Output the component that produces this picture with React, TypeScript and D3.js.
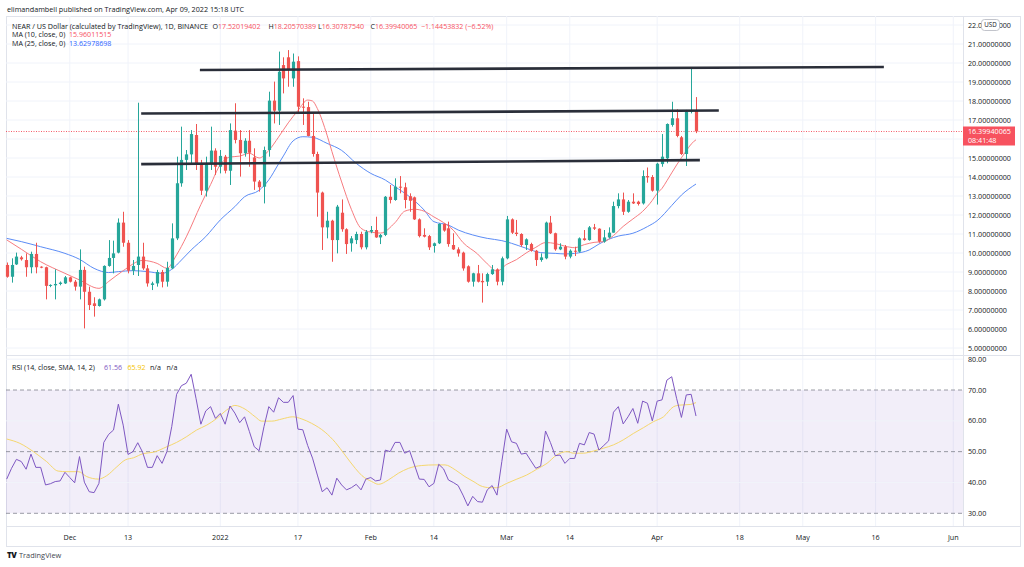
import React from 'react';
import * as d3 from 'd3';

// ---------- DATA ----------
// Daily candles NEAR/USD (Binance), first candle = 2021-11-18, last = 2022-04-09
const firstDay = Date.UTC(2021, 10, 18);

const opens = [
  9.37, 8.75, 9.40, 9.77, 9.63, 9.25, 9.95, 9.28, 9.25, 8.27,
  8.30, 8.37, 8.40, 8.72, 8.49, 8.23, 9.11, 7.96, 7.35, 7.21,
  7.56, 9.32, 9.74, 10.02, 11.60, 10.54, 9.07, 9.37, 9.81, 9.19,
  8.32, 8.40, 9.00, 8.49, 9.19, 10.77, 13.67, 14.90, 15.19, 16.21,
  14.72, 13.28, 14.72, 15.39, 14.54, 15.07, 14.33, 16.44, 15.95, 15.25,
  15.91, 15.03, 13.76, 13.49, 15.42, 18.02, 17.49, 19.89, 20.30, 19.19,
  20.10, 17.70, 17.68, 16.16, 15.21, 13.18, 11.35, 11.70, 10.68, 12.12,
  11.25, 10.51, 10.68, 11.00, 10.30, 11.12, 11.21, 10.82, 10.95, 12.96,
  12.79, 13.49, 13.46, 12.99, 12.93, 11.77, 10.95, 10.89, 10.37, 10.51,
  11.53, 11.30, 10.42, 10.19, 10.02, 9.30, 8.49, 8.93, 8.53, 8.49,
  8.89, 9.14, 8.49, 9.72, 11.77, 11.07, 11.00, 10.42, 10.47, 10.12,
  9.63, 9.72, 11.60, 11.04, 10.19, 10.33, 9.81, 10.12, 10.07, 10.77,
  10.68, 11.35, 11.28, 10.60, 10.82, 11.07, 12.47, 12.82, 12.17, 12.70,
  12.70, 12.61, 14.05, 14.00, 13.28, 14.68, 14.98, 16.74, 17.09, 16.09,
  15.21, 17.44, 17.52019402,
];
const highs = [
  9.50, 9.72, 10.02, 9.85, 9.98, 10.07, 10.54, 9.30, 9.28, 8.35,
  9.14, 8.50, 8.79, 8.75, 8.58, 10.19, 9.28, 8.23, 7.67, 7.60,
  9.35, 10.68, 10.65, 11.82, 12.17, 10.68, 9.63, 17.91, 10.54, 9.37,
  8.49, 9.11, 9.11, 9.54, 11.56, 15.07, 16.65, 15.42, 16.47, 16.79,
  14.90, 15.07, 16.65, 15.51, 15.42, 15.16, 16.82, 17.88, 16.47, 16.04,
  16.47, 15.51, 13.84, 15.60, 18.49, 19.02, 20.60, 20.30, 20.68, 20.50,
  20.35, 18.14, 17.96, 17.35, 15.33, 13.23, 12.17, 11.75, 12.53, 12.82,
  11.30, 10.89, 11.12, 11.12, 11.21, 11.42, 11.91, 11.00, 13.00, 13.58,
  13.93, 14.05, 13.70, 13.14, 12.97, 11.82, 11.30, 10.95, 10.55, 11.56,
  11.56, 11.65, 11.04, 10.30, 10.07, 9.35, 8.96, 9.37, 8.93, 8.96,
  9.37, 9.19, 9.81, 11.95, 11.82, 11.74, 11.04, 10.77, 10.54, 10.16,
  9.98, 11.65, 11.95, 11.07, 10.51, 10.42, 10.19, 10.33, 10.82, 11.21,
  11.42, 11.53, 11.30, 11.21, 11.35, 12.70, 13.14, 13.18, 12.79, 13.14,
  12.75, 14.35, 14.50, 14.10, 14.75, 16.26, 16.82, 17.96, 17.56, 16.16,
  17.53, 19.77, 18.20570389,
];
const lows = [
  8.70, 8.44, 9.37, 9.60, 8.75, 8.93, 8.93, 9.20, 7.56, 8.20,
  7.56, 8.30, 8.37, 8.45, 8.02, 7.56, 6.03, 7.00, 6.65, 7.18,
  7.50, 9.28, 8.93, 9.98, 10.33, 8.93, 8.84, 8.79, 9.11, 8.23,
  8.05, 8.23, 8.19, 8.23, 9.15, 10.68, 13.49, 14.37, 14.72, 14.37,
  13.05, 12.97, 14.37, 14.11, 14.19, 14.19, 13.58, 15.77, 14.02, 15.07,
  14.54, 13.32, 13.23, 12.61, 15.07, 16.82, 16.74, 18.40, 18.75, 18.75,
  17.35, 16.74, 16.14, 15.07, 11.91, 10.16, 10.77, 9.54, 9.98, 11.12,
  9.95, 10.07, 10.47, 10.19, 10.19, 11.04, 10.80, 10.47, 10.89, 12.61,
  12.75, 13.14, 12.35, 12.17, 11.74, 10.82, 10.82, 10.16, 10.02, 10.47,
  11.12, 10.33, 10.16, 9.81, 9.07, 8.44, 8.23, 8.45, 7.39, 8.26,
  8.85, 8.30, 8.30, 9.67, 11.00, 10.89, 10.33, 10.16, 10.07, 9.32,
  9.54, 9.67, 11.00, 10.12, 10.15, 9.67, 9.72, 9.84, 10.02, 10.65,
  10.65, 11.21, 10.54, 10.54, 10.77, 11.07, 12.35, 12.00, 12.12, 12.58,
  12.50, 12.55, 13.70, 13.23, 12.55, 14.54, 14.72, 16.65, 16.09, 15.16,
  14.58, 17.35, 16.3078754,
];
const closes = [
  8.75, 9.37, 9.81, 9.67, 9.25, 9.95, 9.25, 9.25, 8.27, 8.32,
  8.37, 8.44, 8.72, 8.49, 8.23, 9.11, 7.96, 7.26, 7.21, 7.56,
  9.32, 9.74, 9.98, 11.60, 10.54, 9.07, 9.32, 9.81, 9.19, 8.40,
  8.40, 9.00, 8.49, 9.21, 10.77, 13.67, 14.90, 15.19, 16.26, 14.72,
  13.28, 14.72, 15.39, 14.54, 15.11, 14.33, 16.47, 15.95, 15.25, 15.91,
  15.28, 13.76, 13.46, 15.42, 18.02, 17.49, 19.54, 19.19, 19.63, 20.07,
  17.70, 17.68, 16.16, 15.21, 13.18, 11.35, 11.70, 10.68, 12.44, 11.25,
  10.47, 10.77, 11.00, 10.30, 11.12, 11.21, 10.82, 10.95, 12.96, 12.79,
  13.49, 13.46, 12.79, 12.75, 11.77, 10.89, 10.86, 10.30, 10.51, 11.53,
  11.18, 10.47, 10.19, 9.98, 9.19, 8.49, 8.93, 8.49, 8.46, 8.89,
  9.14, 8.49, 9.72, 11.77, 11.07, 11.00, 10.42, 10.72, 10.12, 9.63,
  9.77, 11.60, 11.04, 10.19, 10.33, 9.81, 10.12, 10.07, 10.77, 10.68,
  11.35, 11.28, 10.60, 10.82, 11.07, 12.47, 12.82, 12.17, 12.70, 12.61,
  12.58, 14.05, 13.98, 13.28, 14.70, 15.07, 16.79, 17.09, 16.16, 15.21,
  17.44, 17.52, 16.39940065,
];

// MA (10) line, sampled [day index, value]
const ma10Points: [number, number][] = [
  [0, 10.69], [3, 10.2], [7, 9.54], [12, 8.93], [15, 8.58], [19, 8.14], [21, 8.5], [24, 9.07],
  [28, 9.61], [31, 9.45], [33, 9.2], [35, 9.9], [37, 10.85], [40, 12.55], [42, 13.6], [44, 14.65],
  [46, 15.05], [48, 15.1], [50, 15.25], [52, 15.0], [54, 15.4], [56, 16.1], [58, 16.85], [60, 17.5],
  [62, 18.05], [63, 18.0], [64, 17.6], [66, 16.2], [67, 15.34], [69, 13.74], [71, 12.3], [73, 11.3],
  [75, 11.1], [77, 11.05], [80, 11.6], [82, 12.2], [84, 12.3], [86, 12.2], [88, 11.9], [90, 11.6],
  [92, 11.2], [94, 10.55], [97, 9.95], [99, 9.43], [101, 9.05], [103, 9.4], [105, 9.65], [107, 10.0],
  [109, 10.3], [111, 10.55], [113, 10.5], [115, 10.36], [117, 10.28], [119, 10.44], [121, 10.56],
  [123, 10.6], [125, 10.92], [127, 11.4], [129, 11.79], [131, 12.19], [133, 12.77], [134, 13.14],
  [135, 13.4], [136, 13.8], [138, 14.63], [140, 15.38], [141, 15.73], [142, 15.96],
];

// MA (25) line, sampled [day index, value]
const ma25Points: [number, number][] = [
  [0, 10.77], [3, 10.6], [7, 10.33], [12, 9.98], [15, 9.67], [18, 9.19], [21, 8.97], [23, 9.02],
  [26, 9.07], [29, 9.02], [32, 8.93], [34, 9.14], [36, 9.63], [38, 10.16], [41, 10.86], [44, 11.74],
  [47, 12.44], [49, 12.96], [52, 13.3], [54, 13.85], [56, 14.69], [57, 15.11], [59, 15.9], [61, 16.12],
  [63, 16.09], [66, 15.77], [69, 15.4], [72, 14.72], [75, 14.19], [78, 13.84], [80, 13.49], [83, 12.96],
  [86, 12.26], [88, 11.65], [91, 11.47], [93, 11.21], [96, 10.95], [99, 10.77], [102, 10.65],
  [104, 10.51], [107, 10.25], [110, 10.02], [113, 9.98], [115, 9.95], [117, 9.98], [120, 10.16],
  [122, 10.47], [124, 10.72], [126, 10.89], [129, 11.04], [132, 11.39], [134, 11.7], [137, 12.5],
  [139, 13.05], [142, 13.63],
];

// RSI (14) per candle
const rsiValues = [
  41.1, 44.6, 47.5, 46.8, 44.3, 49.2, 44.9, 44.9, 39.2, 39.6,
  40.3, 40.5, 43.3, 41.6, 39.9, 48.4, 40.1, 37.0, 36.7, 39.7,
  53.0, 55.6, 57.0, 65.4, 58.6, 49.1, 50.0, 52.9, 49.8, 44.9,
  44.9, 48.7, 46.2, 50.0, 58.1, 68.6, 71.4, 72.2, 75.1, 67.3,
  58.9, 63.2, 64.6, 60.8, 62.4, 58.9, 64.8, 62.5, 59.4, 61.3,
  56.5, 51.6, 50.3, 58.1, 64.6, 62.8, 67.5, 66.0, 66.0, 68.2,
  57.3, 57.1, 52.0, 47.9, 42.4, 37.0, 38.3, 35.9, 41.4, 39.2,
  37.6, 38.3, 39.4, 37.6, 41.1, 41.6, 40.5, 40.8, 50.5, 50.0,
  53.0, 53.0, 49.5, 50.3, 45.7, 41.1, 41.0, 38.6, 39.7, 45.9,
  44.4, 40.8, 40.0, 39.0, 35.9, 32.4, 35.5, 33.8, 33.6, 37.6,
  39.0, 35.9, 46.8, 57.3, 53.2, 52.7, 49.2, 49.5, 47.0, 44.6,
  45.3, 56.7, 53.0, 48.7, 48.9, 46.2, 47.8, 47.8, 52.7, 52.2,
  56.2, 55.7, 50.5, 52.0, 53.5, 62.8, 64.6, 59.0, 61.3, 64.0,
  59.2, 66.4, 65.7, 60.0, 66.4, 66.8, 73.2, 74.3, 67.3, 61.1,
  68.4, 68.6, 61.56,
];

// RSI-based SMA (14), sampled [day index, value]
const rsiMaPoints: [number, number][] = [
  [0, 54.1], [2.7, 52.7], [5.5, 50.0], [8.2, 46.8], [10.6, 43.7], [12.4, 43.5], [14.8, 43.5],
  [16.5, 41.9], [18.9, 41.1], [20.6, 42.2], [22.7, 45.1], [24.4, 47.3], [26.1, 48.0], [28.2, 49.4],
  [30.2, 49.8], [33, 51.6], [35, 53.0], [37.1, 54.9], [39.1, 57.0], [41.2, 58.6], [43.3, 60.8],
  [45.3, 63.5], [47, 65.0], [49.1, 63.8], [51.2, 61.3], [52.5, 59.9], [54.6, 59.9], [56.7, 60.6],
  [58.9, 61.3], [60.8, 60.6], [62.8, 59.2], [65.6, 56.3], [67.7, 53.0], [69.7, 48.9], [71.8, 44.6],
  [73.2, 42.2], [75.2, 40.3], [76.6, 39.4], [78.6, 40.8], [80.7, 43.0], [82.8, 44.6], [85.5, 45.5],
  [88.2, 45.7], [90.3, 45.7], [92.4, 44.1], [94.4, 41.9], [96.5, 40.0], [97.5, 39.0], [99.6, 38.3],
  [100.9, 38.3], [103, 39.7], [105.1, 41.1], [107.1, 42.4], [109.2, 44.3], [111.3, 46.2],
  [113.3, 48.9], [115.4, 50.0], [116.8, 49.5], [118.8, 49.5], [120.9, 50.2], [122.9, 51.1],
  [125, 52.2], [127, 53.8], [129.1, 55.9], [131.2, 57.8], [133.2, 59.7], [135.3, 61.3],
  [137.4, 64.6], [138.7, 65.1], [140.8, 65.3], [142, 65.92],
];

// Drawn horizontal trend lines: [start day, start price, end day, end price]
const trendLines: [number, number, number, number][] = [
  [39.8, 19.63, 180.7, 19.79],
  [27.7, 17.34, 146.7, 17.5],
  [27.7, 14.68, 142.8, 14.89],
];

// price labels shown on the axis (16 is hidden under the last-price tag)
const priceTicks = [5, 6, 7, 8, 9, 10, 11, 12, 13, 14, 15, 16, 17, 18, 19, 20, 21, 22];
const priceLabelTicks = [5, 6, 7, 8, 9, 10, 11, 12, 13, 14, 15, 17, 18, 19, 20, 21, 22];
const rsiTicks = [30, 40, 50, 60, 70, 80];
const rsiDashed = [30, 50, 70];
const timeTickDates = [
  [2021, 11, 1], [2021, 11, 13], [2022, 0, 1], [2022, 0, 17], [2022, 1, 1], [2022, 1, 14],
  [2022, 2, 1], [2022, 2, 14], [2022, 3, 1], [2022, 3, 18], [2022, 4, 1], [2022, 4, 16], [2022, 5, 1],
];
const timeTickLabels = ['Dec', '13', '2022', '17', 'Feb', '14', 'Mar', '14', 'Apr', '18', 'May', '16', 'Jun'];

const lastPrice = 16.39940065;
const headerText = 'elimandambell published on TradingView.com, Apr 09, 2022 15:18 UTC';
const symbolTitle = 'NEAR / US Dollar (calculated by TradingView), 1D, BINANCE';
const ohlcLegend = [
  ['O', '17.52019402'], ['H', '18.20570389'], ['L', '16.30787540'], ['C', '16.39940065'],
];
const changeText = '\u22121.14453832 (\u22126.52%)';
const ma10Legend = ['MA (10, close, 0)', '15.96011515'];
const ma25Legend = ['MA (25, close, 0)', '13.62978698'];
const rsiLegend = ['RSI (14, close, SMA, 14, 2)', '61.56', '65.92', 'n/a', 'n/a'];
const countdown = '08:41:48';

// ---------- COMPONENT ----------
const DAY = 86400000;
const dayDate = (i: number) => new Date(firstDay + i * DAY);

const FONT = '"Open Sans", Roboto, "Liberation Sans", Arial, sans-serif';
const UP = '#26a69a';
const DOWN = '#ef5350';
const TEXT = '#131722';
const GRID = '#f0f3fa';
const RED_TXT = '#f7525f';

export default function App() {
  const W = 1024;
  const H = 567;
  const paneLeft = 6;
  const paneRight = 963;
  const mainTop = 16;
  const mainBottom = 355;
  const rsiBottom = 526;

  const x = d3.scaleUtc().domain([dayDate(0), dayDate(142)]).range([6.7, 696]);
  const xi = (i: number) => x(dayDate(i));
  const yP = d3.scaleLinear().domain([5, 22]).range([348, 25]);
  const yR = d3.scaleLinear().domain([30, 70]).range([513.3, 390]);

  const maLine = d3
    .line<[number, number]>()
    .x((d) => xi(d[0]))
    .y((d) => yP(d[1]))
    .curve(d3.curveMonotoneX);
  const rsiLine = d3
    .line<number>()
    .x((_, i) => xi(i))
    .y((d) => yR(d));
  const rsiMaLine = d3
    .line<[number, number]>()
    .x((d) => xi(d[0]))
    .y((d) => yR(d[1]))
    .curve(d3.curveMonotoneX);

  const fmt8 = d3.format('.8f');
  const fmt2 = d3.format('.2f');
  const bodyW = 3.2;
  const fs = 7.2;
  const lfs = 7.1;
  const lastY = Math.round(yP(lastPrice)) + 0.5;

  const tickXs = timeTickDates.map((d) => x(new Date(Date.UTC(d[0], d[1], d[2]))));
  const ohlcX = [212.5, 268.5, 318, 370.5];

  return (
    <svg
      width={W}
      height={H}
      viewBox={`0 0 ${W} ${H}`}
      style={{ position: 'absolute', left: 0, top: 0, background: '#fff' }}
      fontFamily={FONT}
    >
      <rect x={0} y={0} width={W} height={H} fill="#fff" />
      {/* header */}
      <text x={7} y={12} fontSize={7.6} fill={TEXT} textLength={237} lengthAdjust="spacingAndGlyphs">
        {headerText}
      </text>

      {/* frame */}
      <rect x={paneLeft + 0.5} y={mainTop + 0.5} width={1014} height={530} fill="none" stroke="#e0e3eb" />

      {/* vertical grid */}
      {tickXs.map((tx, i) => (
        <line key={'vg' + i} x1={tx} x2={tx} y1={mainTop} y2={rsiBottom} stroke={GRID} />
      ))}
      {/* main horizontal grid */}
      {priceTicks.map((v) => (
        <line key={'hg' + v} x1={paneLeft} x2={paneRight} y1={yP(v)} y2={yP(v)} stroke={GRID} />
      ))}

      {/* RSI band */}
      <rect
        x={paneLeft}
        y={yR(70)}
        width={paneRight - paneLeft}
        height={yR(30) - yR(70)}
        fill="#7e57c2"
        fillOpacity={0.1}
      />
      {rsiTicks
        .filter((v) => !rsiDashed.includes(v))
        .map((v) => (
          <line key={'rg' + v} x1={paneLeft} x2={paneRight} y1={yR(v)} y2={yR(v)} stroke={GRID} strokeOpacity={0.9} />
        ))}
      {rsiDashed.map((v) => (
        <line
          key={'rd' + v}
          x1={paneLeft}
          x2={paneRight}
          y1={yR(v)}
          y2={yR(v)}
          stroke="#787b86"
          strokeOpacity={0.75}
          strokeDasharray="4,3"
        />
      ))}

      {/* pane separators */}
      <line x1={paneLeft} x2={1020} y1={mainBottom + 0.5} y2={mainBottom + 0.5} stroke="#e0e3eb" />
      <line x1={paneLeft} x2={1020} y1={rsiBottom + 0.5} y2={rsiBottom + 0.5} stroke="#e0e3eb" />
      <line x1={paneRight + 0.5} x2={paneRight + 0.5} y1={mainTop} y2={rsiBottom} stroke="#e0e3eb" />

      {/* current price dotted line */}
      <line x1={paneLeft} x2={paneRight} y1={lastY} y2={lastY} stroke="#f23645" strokeOpacity={0.8} strokeDasharray="1,1.5" />

      {/* moving averages */}
      <path d={maLine(ma25Points) || ''} fill="none" stroke="#5b8cf6" strokeWidth={1} />
      <path d={maLine(ma10Points) || ''} fill="none" stroke="#f77c80" strokeWidth={1} />

      {/* candles */}
      {opens.map((o, i) => {
        const c = closes[i];
        const up = c >= o;
        const col = up ? UP : DOWN;
        const cx = Math.round(xi(i)) + 0.5;
        const top = yP(Math.max(o, c));
        const bot = yP(Math.min(o, c));
        return (
          <g key={'c' + i}>
            <line x1={cx} x2={cx} y1={yP(highs[i])} y2={yP(lows[i])} stroke={col} strokeWidth={1} />
            <rect x={cx - bodyW / 2} y={top} width={bodyW} height={Math.max(1, bot - top)} fill={col} />
          </g>
        );
      })}

      {/* trend lines */}
      {trendLines.map((t, i) => (
        <line
          key={'tl' + i}
          x1={xi(t[0])}
          y1={yP(t[1])}
          x2={xi(t[2])}
          y2={yP(t[3])}
          stroke="#2a2e39"
          strokeWidth={2.6}
        />
      ))}

      {/* RSI lines */}
      <path d={rsiMaLine(rsiMaPoints) || ''} fill="none" stroke="#f5d76e" strokeWidth={1} />
      <path d={rsiLine(rsiValues) || ''} fill="none" stroke="#7e57c2" strokeWidth={1} />

      {/* legends */}
      <g fontSize={lfs}>
        <text x={12} y={28.5} fill={TEXT} textLength={196} lengthAdjust="spacingAndGlyphs">
          {symbolTitle}
        </text>
        {ohlcLegend.map((p, i) => (
          <text key={'ol' + i} x={ohlcX[i]} y={28.5} fill={TEXT}>
            {p[0]}
            <tspan fill={RED_TXT}>{p[1]}</tspan>
          </text>
        ))}
        <text x={421} y={28.5} fill={RED_TXT}>
          {changeText}
        </text>
        <text x={12} y={37} fill={TEXT}>
          {ma10Legend[0]}
        </text>
        <text x={69} y={37} fill={RED_TXT}>
          {ma10Legend[1]}
        </text>
        <text x={12} y={45.5} fill={TEXT}>
          {ma25Legend[0]}
        </text>
        <text x={69} y={45.5} fill="#2962ff">
          {ma25Legend[1]}
        </text>
        <text x={12} y={369.5} fill={TEXT}>
          {rsiLegend[0]}
        </text>
        <text x={104} y={369.5} fill="#7e57c2">
          {rsiLegend[1]}
        </text>
        <text x={127.5} y={369.5} fill="#f5c400">
          {rsiLegend[2]}
        </text>
        <text x={150} y={369.5} fill={TEXT}>
          {rsiLegend[3]}
        </text>
        <text x={166.5} y={369.5} fill={TEXT}>
          {rsiLegend[4]}
        </text>
      </g>

      {/* price axis */}
      <g fontSize={fs} fill={TEXT}>
        {priceLabelTicks.map((v) => (
          <text key={'pt' + v} x={968} y={yP(v)} dy="0.35em">
            {fmt8(v)}
          </text>
        ))}
        {rsiTicks.map((v) => (
          <text key={'rt' + v} x={968} y={yR(v)} dy="0.35em">
            {fmt2(v)}
          </text>
        ))}
      </g>

      {/* USD badge */}
      <rect x={981.5} y={19.5} width={18} height={11} rx={3} fill="#fff" stroke="#b2b5be" strokeWidth={0.8} />
      <text x={990.5} y={25} dy="0.35em" fontSize={6.2} textAnchor="middle" fill={TEXT}>
        USD
      </text>

      {/* last price label */}
      <rect x={963} y={lastY - 5} width={52} height={19} fill="#f7525f" />
      <text x={968} y={lastY} dy="0.35em" fontSize={fs} fill="#fff">
        {fmt8(lastPrice)}
      </text>
      <text x={968} y={lastY + 9} dy="0.35em" fontSize={fs} fill="#fff">
        {countdown}
      </text>

      {/* time axis */}
      <g fontSize={fs} fill={TEXT} textAnchor="middle">
        {tickXs.map((tx, i) => (
          <text key={'tt' + i} x={tx} y={537} dy="0.35em">
            {timeTickLabels[i]}
          </text>
        ))}
      </g>

      {/* footer logo */}
      <text x={7} y={558} fontSize={8} fontWeight={900} fill={TEXT} letterSpacing={-0.5}>
        TV
      </text>
      <text x={19} y={558} fontSize={7.4} fill="#434651">
        TradingView
      </text>
    </svg>
  );
}
